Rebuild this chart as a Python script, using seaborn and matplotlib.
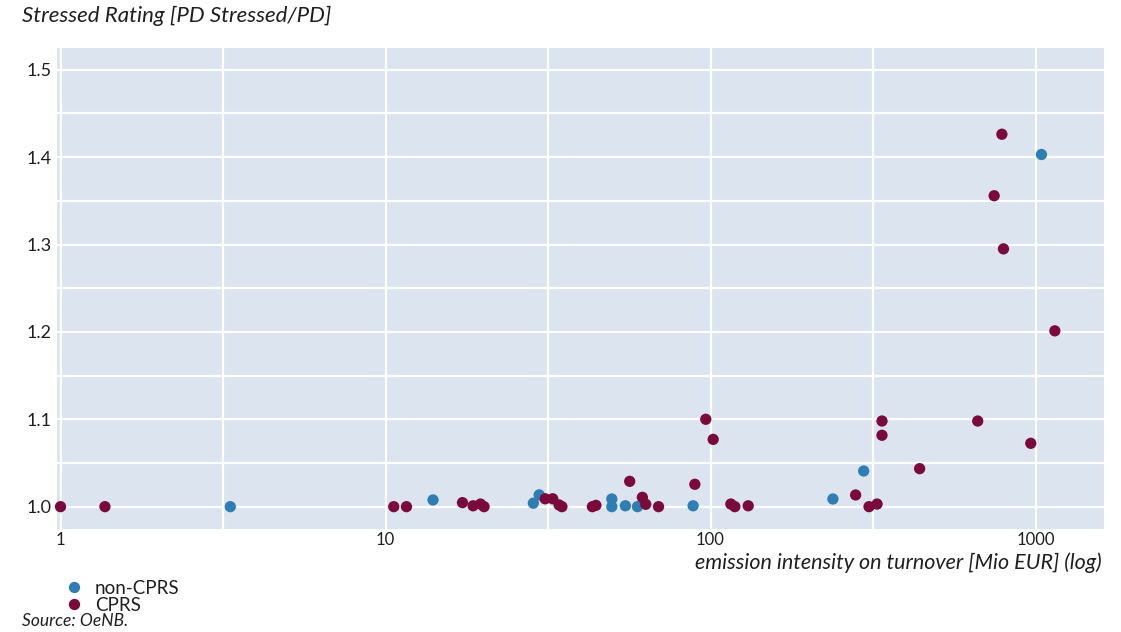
import numpy as np
import pandas as pd
import matplotlib
matplotlib.use("Agg")
import matplotlib.pyplot as plt
import matplotlib.ticker as mticker
import seaborn as sns

# ---- data ----
noncprs_x = [3.33, 14.0, 28.5, 29.7, 49.7, 49.7, 54.7, 59.6, 88.4, 238, 296, 1043]
noncprs_y = [1.0, 1.0077, 1.004, 1.0135, 1.0088, 1.0, 1.001, 1.0, 1.001, 1.0088, 1.0408, 1.403]

cprs_x = [1.0, 1.37, 10.6, 11.6, 17.25, 18.6, 19.6, 20.1, 31.0, 32.7, 34.2, 34.9,
          43.3, 44.4, 56.4, 61.7, 63.2, 69.2, 89.5, 96.7, 101.9, 115.5, 118.8, 130.6,
          279.6, 307.4, 325.4, 337, 337, 440, 664, 746, 788, 797, 967, 1147]
cprs_y = [1.0, 1.0, 1.0, 1.0, 1.0046, 1.001, 1.003, 1.0, 1.009, 1.009, 1.002, 1.0,
          1.0, 1.0015, 1.029, 1.0107, 1.0027, 1.0, 1.0256, 1.1, 1.077, 1.003, 1.0, 1.001,
          1.0134, 1.0, 1.003, 1.098, 1.0817, 1.0435, 1.098, 1.3558, 1.4262, 1.295, 1.0725, 1.2012]

groups = ["non-CPRS", "CPRS"]
x_ticks = [1, 10, 100, 1000]
x_tick_labels = ["1", "10", "100", "1000"]
y_ticks = [1.0, 1.1, 1.2, 1.3, 1.4, 1.5]

df = pd.DataFrame({
    "x": noncprs_x + cprs_x,
    "y": noncprs_y + cprs_y,
    "group": [groups[0]] * len(noncprs_x) + [groups[1]] * len(cprs_x),
})

sns.set_theme(style="white")
plt.rcParams["font.family"] = ["Lato", "DejaVu Sans"]
txt = "#1f1f1f"
palette = {"non-CPRS": "#2e7db3", "CPRS": "#7b0a3c"}

fig = plt.figure(figsize=(11.21, 6.32), dpi=100)
ax = fig.add_axes([0.0508, 0.1625, 0.9343, 0.762])
ax.set_facecolor("#dbe4ef")

sns.scatterplot(data=df, x="x", y="y", hue="group", hue_order=groups,
                palette=palette, s=66, linewidth=0, ax=ax, zorder=3, clip_on=False)

ax.set_xscale("log")
ax.set_xlim(0.975, 1628)
ax.set_ylim(0.9741, 1.5252)

ax.xaxis.set_major_locator(mticker.FixedLocator(x_ticks))
ax.xaxis.set_major_formatter(mticker.FixedFormatter(x_tick_labels))
ax.xaxis.set_minor_locator(mticker.FixedLocator([10 ** (k + 0.5) for k in range(4)]))
ax.xaxis.set_minor_formatter(mticker.NullFormatter())
ax.yaxis.set_major_locator(mticker.FixedLocator(y_ticks))
ax.yaxis.set_major_formatter(mticker.FormatStrFormatter("%.1f"))
ax.yaxis.set_minor_locator(mticker.FixedLocator([v + 0.05 for v in y_ticks[:-1]]))

ax.grid(True, which="both", color="white", linewidth=1.6)
ax.set_axisbelow(True)
for sp in ax.spines.values():
    sp.set_visible(False)
ax.tick_params(which="both", length=0)
ax.tick_params(axis="x", labelsize=12, colors=txt, pad=2)
ax.tick_params(axis="y", labelsize=13, colors=txt, pad=4)

ax.set_xlabel("")
ax.set_ylabel("")

fig.text(0.0196, 0.975, "Stressed Rating [PD Stressed/PD]", fontsize=16,
         style="italic", color=txt, ha="left", va="center")
fig.text(0.983, 1 - 552 / 632, "emission intensity on turnover [Mio EUR] (log)", fontsize=15.5,
         style="italic", color=txt, ha="right", va="top")
fig.text(0.0196, 0.017, "Source: OeNB.", fontsize=12.5, style="italic",
         color=txt, ha="left", va="center")

sns.move_legend(ax, loc="upper left", bbox_to_anchor=(0.058, 0.083),
                bbox_transform=fig.transFigure, title=None, frameon=False,
                fontsize=13.5, handlelength=1.0, handletextpad=0.6,
                labelspacing=0.0, borderpad=0, borderaxespad=0)
leg = ax.get_legend()
for t in leg.get_texts():
    t.set_color(txt)

fig.savefig("out.png", dpi=100)
